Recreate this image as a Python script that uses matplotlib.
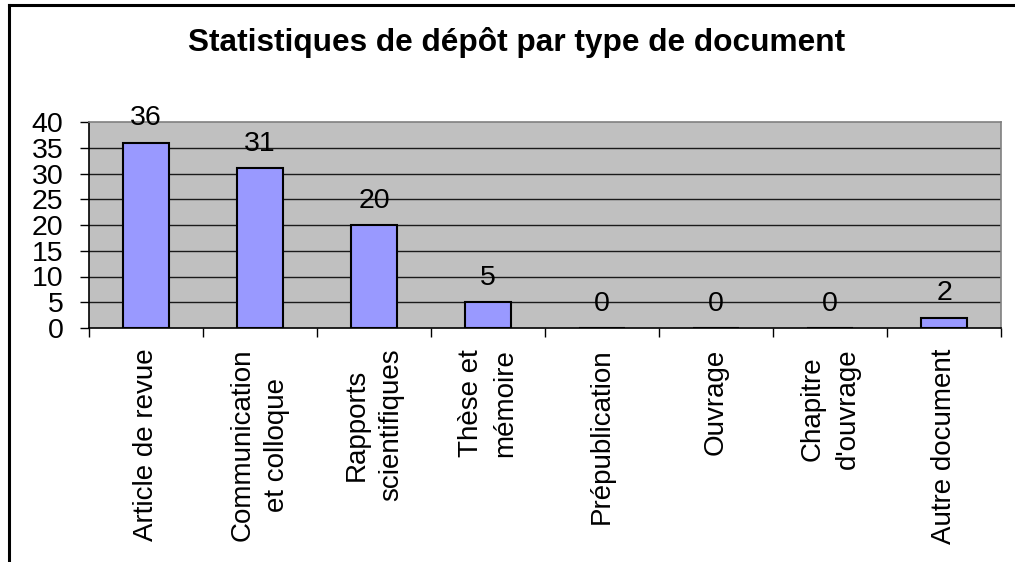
import matplotlib
matplotlib.use("Agg")
import matplotlib.pyplot as plt
from matplotlib.lines import Line2D
from matplotlib.ticker import FixedLocator

plt.rcParams['font.family'] = ['Liberation Sans', 'DejaVu Sans']

# Deposit counts by document type
categories = [
    "Article de revue",
    "Communication\net colloque",
    "Rapports\nscientifiques",
    "Thèse et\nmémoire",
    "Prépublication",
    "Ouvrage",
    "Chapitre\nd'ouvrage",
    "Autre document",
]
counts = [36, 31, 20, 5, 0, 0, 0, 2]
y_ticks = [0, 5, 10, 15, 20, 25, 30, 35, 40]
title = "Statistiques de dépôt par type de document"

W, H, DPI = 1015, 562, 100
fig = plt.figure(figsize=(W / DPI, H / DPI), dpi=DPI, facecolor="white")

# plot area in pixel terms
left_px, right_px, top_px, bottom_px = 89, 1001, 122, 328
ax = fig.add_axes([left_px / W, 1 - bottom_px / H,
                   (right_px - left_px) / W, (bottom_px - top_px) / H])
ax.set_facecolor("#C0C0C0")

n = len(categories)
x = list(range(n))
ax.set_xlim(-0.5, n - 0.5)
ax.set_ylim(0, 40)

# horizontal gridlines
for v in y_ticks[1:-1]:
    ax.axhline(v, color="#1a1a1a", lw=1.0, zorder=1)

ax.bar(x, counts, width=0.4, color="#9999FF", edgecolor="black",
       linewidth=1.5, zorder=2)

fs_num = 20.5
fs_cat = 20
for xi, v in zip(x, counts):
    ax.annotate(str(v), xy=(xi, v), xytext=(0, 12.5), textcoords="offset points",
                ha="center", va="baseline", fontsize=fs_num, color="black", zorder=3)

# spines
for side in ("left", "bottom"):
    ax.spines[side].set_color("black")
    ax.spines[side].set_linewidth(1.2)
for side in ("top", "right"):
    ax.spines[side].set_color("#808080")
    ax.spines[side].set_linewidth(1.2)

# y axis
ax.set_yticks(y_ticks)
ax.set_yticklabels([str(t) for t in y_ticks], fontsize=fs_num)
ax.tick_params(axis="y", direction="out", length=6.5, width=1, color="black",
               pad=12)

# x axis: tick marks at category boundaries, labels at centers
ax.xaxis.set_major_locator(FixedLocator([i - 0.5 for i in range(n + 1)]))
ax.xaxis.set_major_formatter(plt.NullFormatter())
ax.xaxis.set_minor_locator(FixedLocator(x))
ax.set_xticklabels(categories, minor=True)
ax.tick_params(axis="x", which="major", direction="out", length=6.5, width=1,
               color="black")
ax.tick_params(axis="x", which="minor", length=0, pad=15, labelsize=fs_cat)
for lbl in ax.xaxis.get_minorticklabels():
    lbl.set_rotation(90)
    lbl.set_va("top")
    lbl.set_ha("center")
    lbl.set_multialignment("center")
    lbl.set_linespacing(1.45)

fig.text(517 / W, 1 - 42.5 / H, title, ha="center", va="center",
         fontsize=22.8, fontweight="bold", color="black")

# chart frame (top and left edges)
fig.add_artist(Line2D([9 / W, 1.0], [1 - 5 / H, 1 - 5 / H],
                      transform=fig.transFigure, color="black", lw=2.2))
fig.add_artist(Line2D([9 / W, 9 / W], [1 - 5 / H, 0.0],
                      transform=fig.transFigure, color="black", lw=2.2))

fig.savefig("out.png", dpi=DPI, facecolor="white")
